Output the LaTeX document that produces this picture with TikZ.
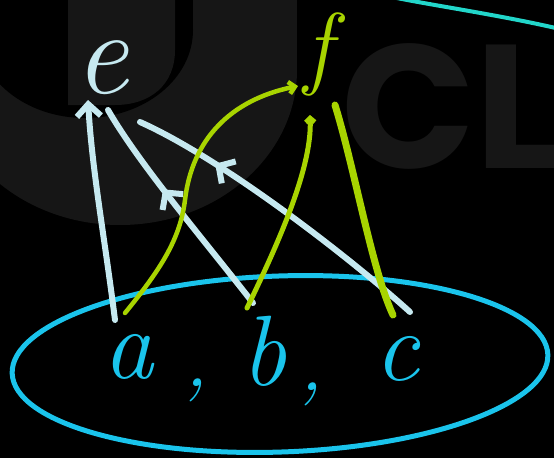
\documentclass[tikz,border=0pt]{standalone}
\usepackage{fontspec}
\newfontfamily\wmfont{Poppins}
\usetikzlibrary{arrows.meta,decorations.markings}
\definecolor{wline}{HTML}{C6E9F0}
\definecolor{gline}{HTML}{A8D400}
\definecolor{bset}{HTML}{1AC4EC}
\definecolor{tealline}{HTML}{22D6CA}
\definecolor{wm}{HTML}{161616}
\begin{document}
\begin{tikzpicture}[x=1pt,y=-1pt, line cap=round, line join=round,
  wl/.style={draw, color=wline, line width=6pt},
  gl/.style={draw, color=gline, line width=4.5pt},
  lbl/.style={inner sep=0pt, anchor=base},
  barb/.style={-{Straight Barb[length=12pt,width=24pt]}},
  midbarb/.style={postaction={decorate}, decoration={markings,
     mark=at position #1 with {\arrow{Straight Barb[length=12pt,width=26pt]}}}},
]
% background and bounding box
\fill[black] (0,0) rectangle (554,458);
\useasboundingbox (0,0) rectangle (554,458);

% faint watermark
\fill[wm] (-57,0) rectangle (297,70);
\fill[wm] (120,70) ellipse (177 and 155);
\fill[black] (-23,0) rectangle (193,30);
\fill[black] (85,30) ellipse (108 and 88);
\fill[wm] (68,0) -- (175,0) -- (175,50) .. controls (175,85) and (150,105) .. (115,105) -- (68,105) -- cycle;
\node[anchor=base west, inner sep=0pt, text=wm,
      font=\wmfont\bfseries\fontsize{176}{176}\selectfont] (wmtext) at (341,168) {CLA};

% teal stroke at top right
\draw[tealline, line width=4pt] (392,-3) .. controls (430,5) and (500,15) .. (560,29);

% the set
\draw[bset, line width=5pt, rotate around={2:(280,364)}] (280,364) ellipse (268 and 88);

% labels
\node[lbl, text=wline, font=\fontsize{120}{120}\selectfont\itshape] (e) at (101,93) {e};
\node[lbl, text=gline, font=\fontsize{92}{92}\selectfont\itshape] (f) at (318,77) {f};
\node[lbl, text=bset, font=\fontsize{100}{100}\selectfont\itshape] (a) at (128,378) {a};
\node[lbl, text=bset, font=\fontsize{100}{100}\selectfont\itshape] (b) at (264,385) {b};
\node[lbl, text=bset, font=\fontsize{100}{100}\selectfont\itshape] (c) at (397,380) {c};
\node[lbl, text=bset, font=\fontsize{80}{80}\selectfont\itshape] (k1) at (196,386) {,};
\node[lbl, text=bset, font=\fontsize{80}{80}\selectfont\itshape] (k2) at (311,390) {,};

% connector ends
\coordinate (wa0) at (115,320); \coordinate (wa1) at (88,100);
\coordinate (wb0) at (253,303); \coordinate (wb1) at (108,110);
\coordinate (wc0) at (410,312); \coordinate (wc1) at (140,122);
\coordinate (ga0) at (125,313); \coordinate (ga1) at (298,86);
\coordinate (gb0) at (247,308); \coordinate (gb1) at (310,115);
\coordinate (gc0) at (393,315); \coordinate (gc1) at (335,105);

% white connectors to e
\draw[wl, barb] (wa0) .. controls (105,240) and (92,170) .. (wa1);
\draw[wl, midbarb=0.6] (wb0) .. controls (200,235) and (140,165) .. (wb1);
\draw[wl, midbarb=0.74] (wc0) .. controls (355,262) and (225,160) .. (wc1);

% green connectors to f
\draw[gl, -{Straight Barb[length=6pt,width=12pt]}] (ga0) .. controls (160,270) and (180,240) .. (185,200) .. controls (192,140) and (230,100) .. (ga1);
\draw[gl, line width=5pt, -{Straight Barb[length=4pt,width=9pt]}] (gb0) .. controls (275,250) and (312,170) .. (gb1);
\draw[gl, line width=7pt] (gc0) .. controls (372,270) and (355,170) .. (gc1);
\end{tikzpicture}
\end{document}
